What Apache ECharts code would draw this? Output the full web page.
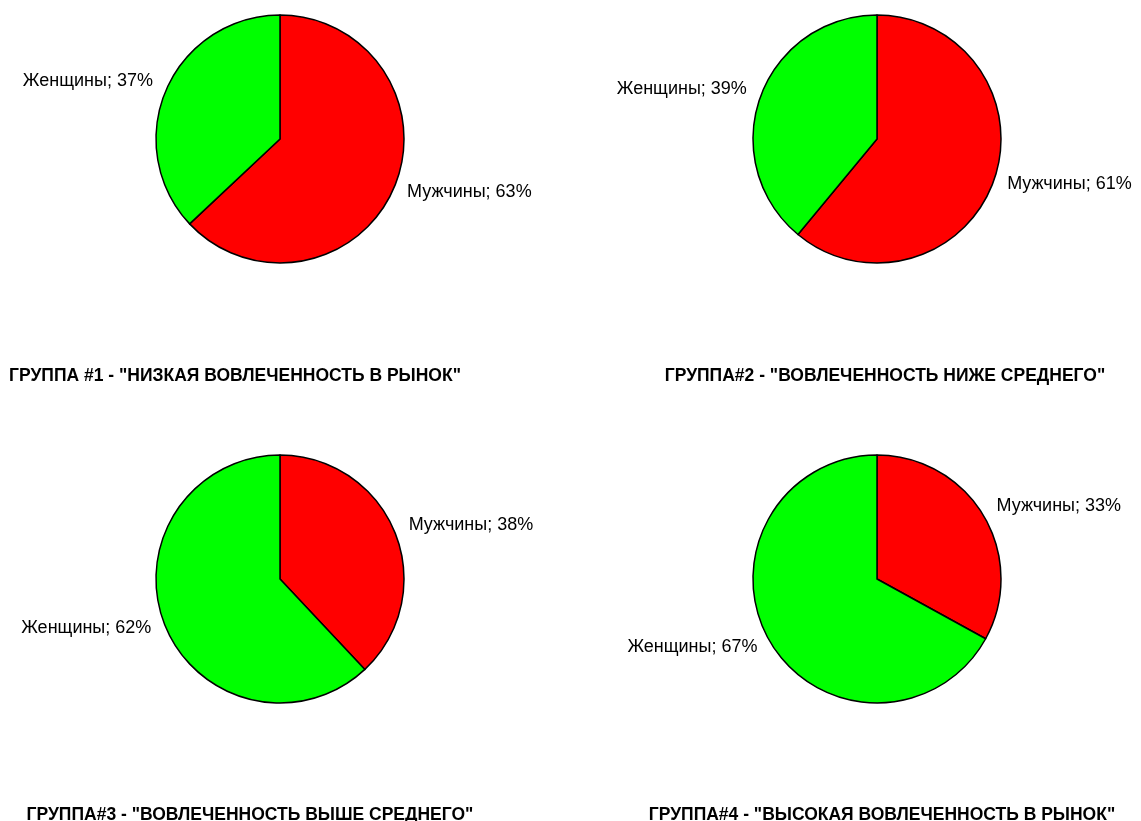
<!DOCTYPE html>
<html>
<head>
<meta charset="utf-8">
<script src="https://cdn.jsdelivr.net/npm/echarts@6/dist/echarts.min.js"></script>
<style>
html,body{margin:0;padding:0;background:#fff;}
#main{width:1141px;height:821px;}
</style>
</head>
<body>
<div id="main"></div>
<script>
// данные
var names = ['Мужчины', 'Женщины'];
var group1 = [63, 37];
var group2 = [61, 39];
var group3 = [38, 62];
var group4 = [33, 67];
var titles = [
	'ГРУППА #1 - "НИЗКАЯ ВОВЛЕЧЕННОСТЬ В РЫНОК"',
	'ГРУППА#2 - "ВОВЛЕЧЕННОСТЬ НИЖЕ СРЕДНЕГО"',
	'ГРУППА#3 - "ВОВЛЕЧЕННОСТЬ ВЫШЕ СРЕДНЕГО"',
	'ГРУППА#4 - "ВЫСОКАЯ ВОВЛЕЧЕННОСТЬ В РЫНОК"'
];
var groups = [group1, group2, group3, group4];

var centers = [[280, 139], [877, 139], [280, 579], [877, 579]];
var titlePos = [[230, 362], [880, 362], [245, 801], [877, 801]];

var chart = echarts.init(document.getElementById('main'));

function makeSeries(vals, i) {
	return {
		type: 'pie',
		center: centers[i],
		radius: 124,
		startAngle: 90,
		clockwise: true,
		avoidLabelOverlap: false,
		animation: false,
		data: vals.map(function (v, k) {
			return { name: names[k], value: v };
		}),
		itemStyle: {
			borderColor: '#000',
			borderWidth: 1.5
		},
		label: {
			show: true,
			position: 'outside',
			formatter: '{b}; {c}%',
			color: '#000',
			fontSize: 18,
			fontFamily: 'Liberation Sans, Arial, sans-serif'
		},
		labelLine: {
			show: false,
			length: 9,
			length2: 0
		},
		// подписи над центром чуть выше
		labelLayout: function (p) {
			var cy = centers[p.seriesIndex][1];
			if (p.labelRect.y + p.labelRect.height / 2 < cy - 30) {
				return { dy: -5 };
			}
			return {};
		},
		emphasis: { disabled: true }
	};
}

var option = {
	backgroundColor: '#fff',
	color: ['#ff0000', '#00ff00'],
	title: titles.map(function (t, i) {
		return {
			text: t,
			left: titlePos[i][0],
			top: titlePos[i][1],
			textAlign: 'center',
			textStyle: {
				fontSize: 17.5,
				fontWeight: 'bold',
				color: '#000',
				fontFamily: 'Liberation Sans, Arial, sans-serif'
			}
		};
	}),
	series: groups.map(makeSeries)
};
chart.setOption(option);
</script>
</body>
</html>
